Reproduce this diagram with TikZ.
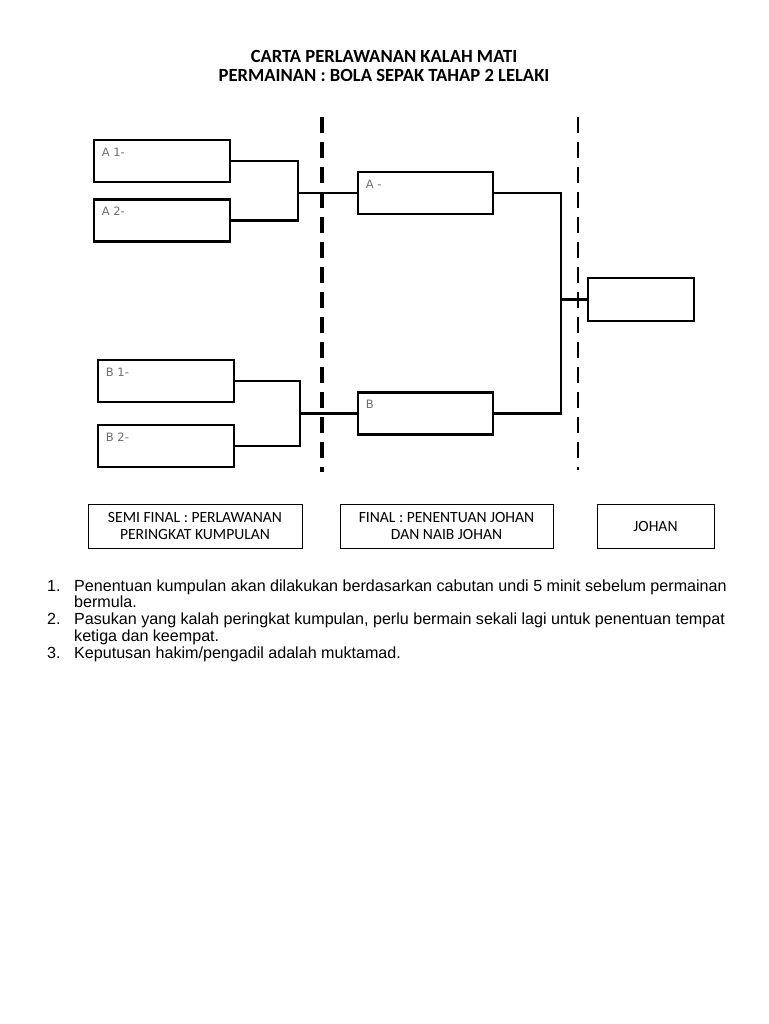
\documentclass[tikz,border=0pt]{standalone}
\usepackage{fontspec}
\setmainfont{Liberation Sans}
\newfontfamily\carlito{Carlito}
\newfontfamily\dejavu{DejaVu Sans}
\usetikzlibrary{positioning}

\definecolor{taggrey}{RGB}{110,110,110}

\tikzset{
  team/.style={draw, line width=2.6pt, minimum width=136pt, minimum height=42pt, inner sep=0pt},
  tag/.style={text=taggrey, font=\dejavu\fontsize{11.5}{12}\selectfont, inner sep=0pt},
  bracket/.style={line width=2.6pt},
  divider/.style={line width=3.2pt, dash pattern=on 16pt off 9pt},
  stage/.style={draw, line width=1pt, minimum height=44pt, inner sep=0pt, align=center,
    font=\carlito\fontsize{15.6}{17.8}\selectfont},
  note/.style={anchor=base west, inner sep=0pt, font=\fontsize{16.1}{16.7}\selectfont, align=left}
}

\begin{document}
\begin{tikzpicture}[x=1pt,y=-1pt]
  \useasboundingbox[fill=white] (0,0) rectangle (768,1024);

  % title
  \node[font=\carlito\bfseries\fontsize{18.6}{19.5}\selectfont, align=center] (title) at (384,66)
    {CARTA PERLAWANAN KALAH MATI\\PERMAINAN : BOLA SEPAK TAHAP 2 LELAKI};

  % dividers between the rounds
  \draw[divider] (322,117) -- (322,472);
  \draw[divider, line width=2.8pt] (578,117) -- (578,470);

  % semi final
  \node[team] (a1) at (162,161) {};
  \node[team] (a2) at (162,220.5) {};
  \node[team] (b1) at (166,381) {};
  \node[team] (b2) at (166,446) {};
  \foreach \t/\s in {a1/A 1-, a2/A 2-, b1/B 1-, b2/B 2-}
    \node[tag, anchor=north west] at ([xshift=9pt,yshift=-9pt]\t.north west) {\s};

  % final
  \node[team, minimum width=135pt] (fa) at (425.5,193) {};
  \node[team, minimum width=135pt] (fb) at (425.5,413.5) {};
  \node[tag, anchor=north west] at ([xshift=9pt,yshift=-9pt]fa.north west) {A -};
  \node[tag, anchor=north west] at ([xshift=9pt,yshift=-9pt]fb.north west) {B};

  % champion
  \node[team, minimum width=106pt, minimum height=43pt] (champ) at (641,299.5) {};

  % brackets
  \coordinate (ja) at (298,193);
  \coordinate (jb) at (300,413.5);
  \coordinate (jf) at (561,299.5);
  \draw[bracket] (a1.east) -| (ja) |- (a2.east);
  \draw[bracket] (ja) -- (fa.west);
  \draw[bracket] (b1.east) -| (jb) |- (b2.east);
  \draw[bracket] (jb) -- (fb.west);
  \draw[bracket] (fa.east) -| (jf) |- (fb.east);
  \draw[bracket, line width=3.4pt] (jf) -- (champ.west);

  % round names
  \node[stage, minimum width=214pt] (s1) at (195,526) {SEMI FINAL : PERLAWANAN\\PERINGKAT KUMPULAN};
  \node[stage, minimum width=213pt] (s2) at (446.5,526) {FINAL : PENENTUAN JOHAN\\DAN NAIB JOHAN};
  \node[stage, minimum width=117pt] (s3) at (655.5,526) {JOHAN};

  % notes
  \node[note] (n1) at (47,591.3) {1.};
  \node[note] (n2) at (47,624.7) {2.};
  \node[note] (n3) at (47,658) {3.};
  \node[note, anchor=base west] (t1) at (74,607.9) {Penentuan kumpulan akan dilakukan berdasarkan cabutan undi 5 minit sebelum permainan\\bermula.};
  \node[note, anchor=base west] (t2) at (74,641.3) {Pasukan yang kalah peringkat kumpulan, perlu bermain sekali lagi untuk penentuan tempat\\ketiga dan keempat.};
  \node[note] (t3) at (74,658) {Keputusan hakim/pengadil adalah muktamad.};
\end{tikzpicture}
\end{document}
